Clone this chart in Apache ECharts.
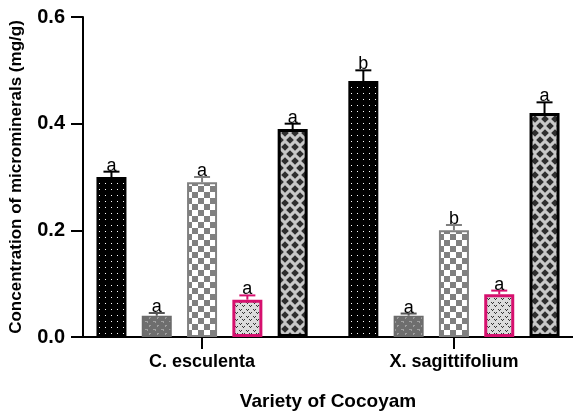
<!DOCTYPE html>
<html>
<head>
<meta charset="utf-8">
<script src="https://cdn.jsdelivr.net/npm/echarts@6/dist/echarts.min.js"></script>
<style>html,body{margin:0;padding:0;background:#fff;}#c{width:573px;height:416px;}</style>
</head>
<body>
<div id="c"></div>
<script>
// ---- data ----
const categories = ['C. esculenta', 'X. sagittifolium'];
const s1 = [0.30, 0.48];   const e1 = [0.010, 0.020];  const l1 = ['a', 'b'];
const s2 = [0.04, 0.04];   const e2 = [0.005, 0.004];  const l2 = ['a', 'a'];
const s3 = [0.29, 0.20];   const e3 = [0.010, 0.010];  const l3 = ['a', 'b'];
const s4 = [0.07, 0.08];   const e4 = [0.008, 0.007];  const l4 = ['a', 'a'];
const s5 = [0.39, 0.42];   const e5 = [0.010, 0.020];  const l5 = ['a', 'a'];
const yTickLabels = ['0.0', '0.2', '0.4', '0.6'];
const yName = 'Concentration of microminerals (mg/g)';
const xName = 'Variety of Cocoyam';

// ---- styles ----
const FONT = 'Liberation Sans, Arial, sans-serif';
const BAR_W = 30, BAR_GAP = 0.51;
const X_PAD = 0.4727;

function tile(w, h, draw) {
  const c = document.createElement('canvas');
  c.width = w; c.height = h;
  const g = c.getContext('2d');
  draw(g, w, h);
  return { image: c, repeat: 'repeat' };
}
const pat1 = tile(6, 6, (g) => { g.fillStyle = '#000'; g.fillRect(0,0,6,6); g.fillStyle = '#fff'; g.fillRect(3,3,1,1); });
const pat2 = tile(8, 8, (g) => {
  g.fillStyle = '#6e6e6e'; g.fillRect(0,0,8,8);
  g.fillStyle = '#a0a0a0';
  g.fillRect(1,1,3,1); g.fillRect(3,1,1,2);
  g.fillRect(5,5,1,2); g.fillRect(5,5,2,1);
});
const pat3 = tile(12, 12, (g) => {
  g.fillStyle = '#ffffff'; g.fillRect(0,0,12,12);
  g.fillStyle = '#808080'; g.fillRect(0,0,6,6); g.fillRect(6,6,6,6);
});
const pat4 = tile(7, 7, (g) => {
  g.fillStyle = '#dcdcdc'; g.fillRect(0,0,7,7);
  g.fillStyle = '#333';
  g.fillRect(1,1,1,1); g.fillRect(3,1,1,1); g.fillRect(2,2,1,1);
  g.fillRect(4,4,1,1); g.fillRect(6,4,1,1); g.fillRect(5,5,1,1);
});
const pat5 = tile(10, 14, (g) => {
  g.fillStyle = '#c8c8c8'; g.fillRect(0,0,10,14);
  g.fillStyle = '#2e2e2e';
  const d = (cx, cy) => { g.beginPath(); g.moveTo(cx, cy-3.8); g.lineTo(cx+3.8, cy); g.lineTo(cx, cy+3.8); g.lineTo(cx-3.8, cy); g.closePath(); g.fill(); };
  d(5,7); d(0,0); d(10,0); d(0,14); d(10,14);
});

const seriesDefs = [
  { v: s1, e: e1, l: l1, fill: pat1, border: '#000000', bw: 2, err: '#000000' },
  { v: s2, e: e2, l: l2, fill: pat2, border: '#6b6b6b', bw: 1.5, err: '#555555' },
  { v: s3, e: e3, l: l3, fill: pat3, border: '#808080', bw: 2, err: '#808080' },
  { v: s4, e: e4, l: l4, fill: pat4, border: '#d6106e', bw: 3, err: '#d6106e' },
  { v: s5, e: e5, l: l5, fill: pat5, border: '#000000', bw: 3, err: '#000000' }
];

const series = seriesDefs.map((d, k) => ({
  type: 'bar',
  barWidth: BAR_W,
  barGap: (BAR_GAP * 100) + '%',
  data: d.v.map((val, i) => [i + 1, val]),
  itemStyle: { color: d.fill, borderColor: d.border, borderWidth: d.bw },
  emphasis: { disabled: true },
  z: 2
}));

const errData = [];
seriesDefs.forEach((d, k) => d.v.forEach((val, i) => errData.push([i + 1, val, d.e[i], k])));

series.push({
  type: 'custom',
  z: 5,
  data: errData,
  encode: { x: 0, y: 1 },
  renderItem: function (params, api) {
    const x = api.value(0), y = api.value(1), e = api.value(2), k = api.value(3);
    const d = seriesDefs[k];
    const off = (k - 2) * BAR_W * (1 + BAR_GAP);
    const base = api.coord([x, y]);
    const top = api.coord([x, y + e]);
    const cx = base[0] + off;
    const idx = x - 1;
    return {
      type: 'group',
      children: [
        { type: 'line', shape: { x1: cx, y1: base[1], x2: cx, y2: top[1] }, style: { stroke: d.err, lineWidth: 2 } },
        { type: 'line', shape: { x1: cx - 8, y1: top[1], x2: cx + 8, y2: top[1] }, style: { stroke: d.err, lineWidth: 2 } },
        { type: 'text', style: { text: d.l[idx], x: cx, y: top[1] + 3, align: 'center', verticalAlign: 'bottom', font: '18px ' + FONT, fill: '#000' } }
      ]
    };
  }
});

const chart = echarts.init(document.getElementById('c'), null, { renderer: 'canvas' });
chart.setOption({
  animation: false,
  backgroundColor: '#ffffff',
  grid: { left: 80, top: 17, width: 497, height: 321, containLabel: false },
  xAxis: {
    type: 'value',
    min: 1 - X_PAD,
    max: categories.length + X_PAD,
    splitLine: { show: false },
    axisLine: { show: true, lineStyle: { color: '#000', width: 2 } },
    axisTick: { show: true, customValues: categories.map((c, i) => i + 1), length: 12, lineStyle: { color: '#000', width: 2 } },
    axisLabel: { customValues: categories.map((c, i) => i + 1), formatter: (v) => categories[Math.round(v) - 1] || '', color: '#000', fontWeight: 'bold', fontSize: 18, fontFamily: FONT, margin: 16 },
    name: xName,
    nameLocation: 'middle',
    nameGap: 55,
    nameTextStyle: { color: '#000', fontWeight: 'bold', fontSize: 19, fontFamily: FONT }
  },
  yAxis: {
    type: 'value',
    min: 0, max: 0.6, interval: 0.2,
    splitLine: { show: false },
    axisLine: { show: true, lineStyle: { color: '#000', width: 2 } },
    axisTick: { show: true, length: 12, lineStyle: { color: '#000', width: 2 } },
    axisLabel: { formatter: (v) => yTickLabels[Math.round(v / 0.2)], color: '#000', fontWeight: 'bold', fontSize: 20, fontFamily: FONT, margin: 18 },
    name: yName,
    nameLocation: 'middle',
    nameGap: 58,
    nameTextStyle: { color: '#000', fontWeight: 'bold', fontSize: 17, fontFamily: FONT }
  },
  series: series
});
</script>
</body>
</html>
